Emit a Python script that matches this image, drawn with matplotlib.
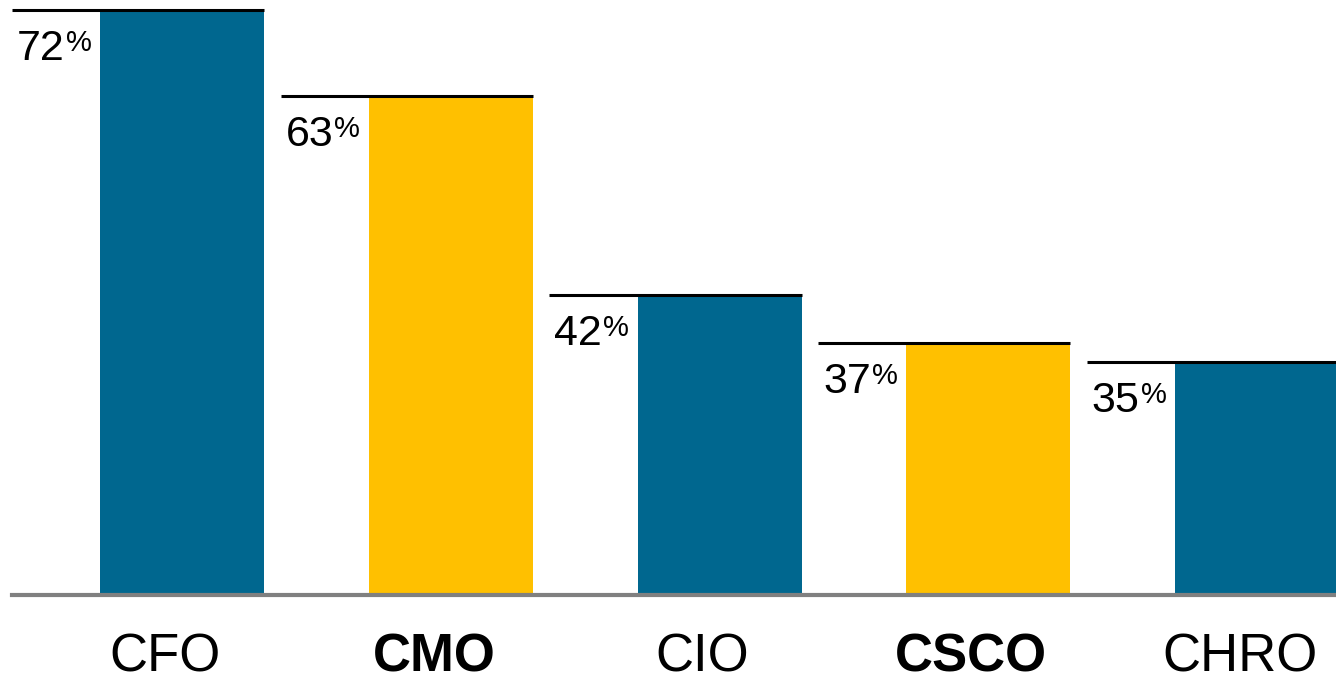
import matplotlib
matplotlib.use("Agg")
import matplotlib.pyplot as plt
import numpy as np

roles = ["CFO", "CMO", "CIO", "CSCO", "CHRO"]
values = [72, 63, 42, 37, 35]
highlight = [False, True, False, True, False]

BLUE = "#00678F"
YELLOW = "#FFC000"

plt.rcParams['font.family'] = ['Liberation Sans', 'DejaVu Sans']

fig = plt.figure(figsize=(13.36, 6.8), dpi=100)
ax = fig.add_axes([12 / 1336, 1 - 595 / 680, 1 - 12 / 1336, (595 - 10) / 680])

x = np.arange(len(roles))
colors = [YELLOW if h else BLUE for h in highlight]
ax.bar(x, values, width=0.61, bottom=0, color=colors, zorder=2)

ax.set_xlim(-0.633, 4.294)
ax.set_ylim(10.5, 72)
ax.axis("off")

# baseline
ax.axhline(10.5, color="#808080", lw=3, zorder=3, clip_on=False)

fig.canvas.draw()
r = fig.canvas.get_renderer()
for xi, v, h, name in zip(x, values, highlight, roles):
    # black line over the bar, extending left over the label
    ax.plot([xi - 0.633, xi + 0.305], [v, v], color="black", lw=2.2,
            zorder=4, solid_capstyle="butt", clip_on=False)
    t = ax.annotate(f"{v}", xy=(xi - 0.633, v), xytext=(5, -19),
                    textcoords="offset pixels", ha="left", va="top",
                    fontsize=31, color="black")
    bb = t.get_window_extent(r)
    ax.annotate("%", xy=(bb.x1, bb.y1), xycoords="figure pixels",
                xytext=(1, 0), textcoords="offset pixels",
                ha="left", va="top", fontsize=21, color="black")
    ax.annotate(name, xy=(xi, 10.5), xytext=(-17, -63),
                textcoords="offset pixels", ha="center", va="center",
                fontsize=38, fontweight="bold" if h else "normal",
                color="black", annotation_clip=False)

fig.savefig("out.png", dpi=100)
